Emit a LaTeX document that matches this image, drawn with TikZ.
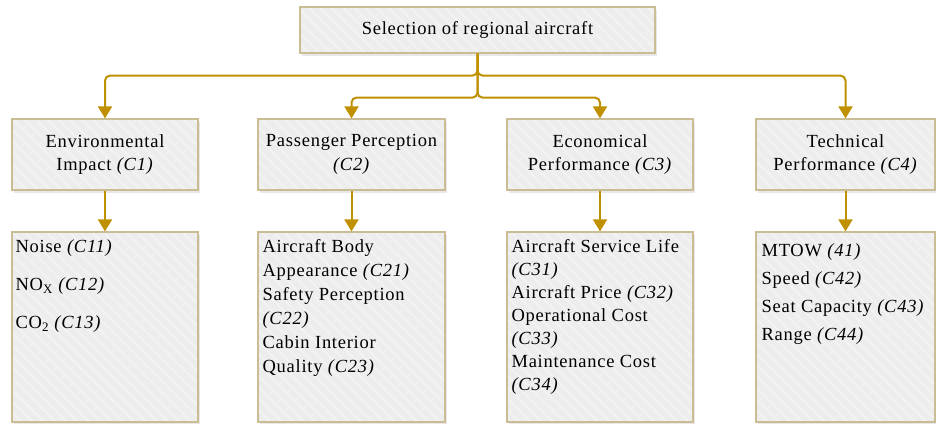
\documentclass[tikz,border=0pt]{standalone}
\usepackage{fontspec}
\setmainfont{Liberation Serif}[LetterSpace=4]
\usetikzlibrary{arrows.meta,shadows,patterns.meta}
\definecolor{gold}{HTML}{BF9000}
\definecolor{boxline}{HTML}{CBBD93}
\definecolor{boxfill}{HTML}{EDEDED}

\begin{document}
\begin{tikzpicture}[x=1pt, y=-1pt, font=\fontsize{18.5}{23.5}\selectfont,
    box/.style = {rectangle, draw=boxline, line width=1.2pt,
      drop shadow={shadow xshift=2pt, shadow yshift=-3pt, opacity=0.18},
      preaction={fill=boxfill},
      preaction={pattern={Lines[angle=-45, distance=8pt, line width=1.8pt]},
        pattern color=white!35!boxfill}},
    crit/.style = {box, minimum height=71pt, align=center},
    sub/.style = {box, minimum height=190pt},
    item/.style = {anchor=north west, align=left, inner sep=0pt},
    link/.style = {draw=gold, line width=2pt, rounded corners=5pt,
      -{Triangle[width=14pt, length=12pt]}}]
  \useasboundingbox (0, 0) rectangle (936, 423);

  \node[box, minimum width=355pt, minimum height=46pt] (goal) at (477.5, 30)
    {Selection of regional aircraft};

  \foreach \n/\x/\w/\t in {1/105/186/{Environmental\\Impact \textit{(C1)}},
      2/351.5/187/{Passenger Perception\\\textit{(C2)}},
      3/600/186/{Economical\\Performance \textit{(C3)}},
      4/845.5/179/{Technical\\Performance \textit{(C4)}}} {
    \node[crit, minimum width=\w pt] (c\n) at (\x, 154.5) {\t};
    \node[sub, minimum width=\w pt] (s\n) at (\x, 327) {};
    \draw[link] (c\n) -- (s\n);
  }

  % branches from the goal down to the four criteria
  \draw[link] (goal.south) -- ++(0, 22) -| (c1.north);
  \draw[link] (goal.south) -- ++(0, 22) -| (c4.north);
  \draw[link] (goal.south) -- ++(0, 44) -| (c2.north);
  \draw[link] (goal.south) -- ++(0, 44) -| (c3.north);

  % sub-criteria
  \node[item, font=\fontsize{18.5}{38}\selectfont] (i1) at ([shift={(4, 8)}]s1.north west)
    {Noise \textit{(C11)}\\NO\textsubscript{X} \textit{(C12)}\\CO\textsubscript{2} \textit{(C13)}};
  \node[item, font=\fontsize{18.5}{24}\selectfont] (i2) at ([shift={(5, 8)}]s2.north west)
    {Aircraft Body\\Appearance \textit{(C21)}\\Safety Perception\\\textit{(C22)}\\Cabin Interior\\Quality \textit{(C23)}};
  \node[item, font=\fontsize{18.5}{23}\selectfont] (i3) at ([shift={(5, 8)}]s3.north west)
    {Aircraft Service Life\\\textit{(C31)}\\Aircraft Price \textit{(C32)}\\Operational Cost\\\textit{(C33)}\\Maintenance Cost\\\textit{(C34)}};
  \node[item, font=\fontsize{18.5}{28}\selectfont] (i4) at ([shift={(6, 12)}]s4.north west)
    {MTOW \textit{(41)}\\Speed \textit{(C42)}\\Seat Capacity \textit{(C43)}\\Range \textit{(C44)}};
\end{tikzpicture}
\end{document}
